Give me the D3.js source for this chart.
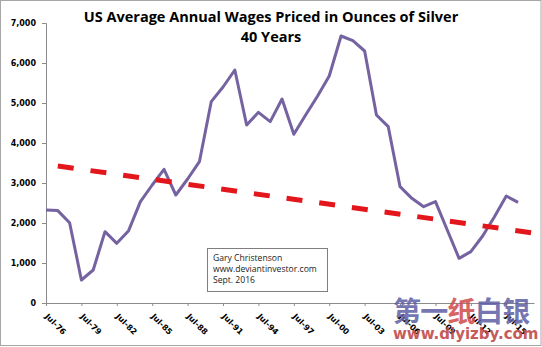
<!DOCTYPE html>
<html>
<head>
<meta charset="utf-8">
<script src="https://cdn.jsdelivr.net/npm/d3@7"></script>
<style>
  body { margin: 0; background: #fff; }
  svg { display: block; }
</style>
</head>
<body>
<svg id="chart"></svg>
<script>
// Data - annual wages priced in ounces of silver, one point per July
const years = d3.range(1976, 2017);
const ounces = [
    2325, 2310, 2008, 575, 825, 1783, 1492, 1808, 2533, 2950,
    3342, 2700, 3100, 3533, 5033, 5400, 5825, 4450, 4767, 4533,
    5100, 4217, 4700, 5170, 5675, 6675, 6558, 6300, 4700, 4408,
    2908, 2617, 2408, 2533, 1825, 1117, 1283, 1675, 2158, 2675,
    2517
];
// Trend line end points (year, ounces)
const trendYears = [1977, 2017.1];
const trendValues = [3425, 1758];
const yTicks = [0, 1000, 2000, 3000, 4000, 5000, 6000, 7000];
const tickYears = d3.range(1976, 2016, 3);
const titleLines = ["US Average Annual Wages Priced in Ounces of Silver", "40 Years"];
const noteLines = ["Gary Christenson", "www.deviantinvestor.com", "Sept. 2016"];
const markChars = ["第", "一", "纸", "白", "银"];
const markColors = ["#5f5fa6", "#5f5fa6", "#cf4b4b", "#5f5fa6", "#5f5fa6"];

const width = 542;
const height = 347;
const margin = { top: 23, right: 8, bottom: 44, left: 46 };

const svg = d3.select("#chart")
    .attr("width", width)
    .attr("height", height);

// Outer frame
svg.append("rect")
    .attr("x", 0.5).attr("y", 0.5)
    .attr("width", width - 1.5).attr("height", height - 2)
    .attr("fill", "#fff")
    .attr("stroke", "#a6a6a6");

const x = d3.scaleLinear()
    .domain([1976, 2017.35])
    .range([margin.left, width - margin.right]);

const y = d3.scaleLinear()
    .domain([0, 7000])
    .range([height - margin.bottom, margin.top]);

// Y axis
const yAxis = svg.append("g")
    .attr("transform", `translate(${margin.left},0)`)
    .call(d3.axisLeft(y).tickValues(yTicks).tickSize(4).tickPadding(6).tickFormat(d3.format(",")));
yAxis.select(".domain").attr("stroke", "#8c8c8c");
yAxis.selectAll(".tick line").attr("stroke", "#8c8c8c");
yAxis.selectAll("text")
    .attr("font-family", "'DejaVu Sans', Verdana, sans-serif")
    .attr("font-weight", "bold")
    .attr("font-size", "8px")
    .attr("fill", "#000");

// X axis
const xAxis = svg.append("g")
    .attr("transform", `translate(0,${height - margin.bottom})`)
    .call(d3.axisBottom(x).tickValues(tickYears).tickSize(3).tickSizeOuter(0)
        .tickFormat(d => "Jul-" + String(d % 100).padStart(2, "0")));
xAxis.select(".domain").attr("stroke", "#8c8c8c");
xAxis.selectAll(".tick line").attr("stroke", "#8c8c8c");
xAxis.selectAll("text")
    .attr("font-family", "'DejaVu Sans', Verdana, sans-serif")
    .attr("font-weight", "bold")
    .attr("font-size", "8px")
    .attr("fill", "#000")
    .attr("text-anchor", "start")
    .attr("dy", "0.35em")
    .attr("y", 0)
    .attr("transform", "translate(0,12) rotate(45)");

// Wage line
const line = d3.line()
    .x((d, i) => x(years[i]))
    .y(d => y(d));

svg.append("path")
    .datum(ounces)
    .attr("fill", "none")
    .attr("stroke", "#7463a0")
    .attr("stroke-width", 3)
    .attr("stroke-linejoin", "round")
    .attr("d", line);

// Trend line
svg.append("line")
    .attr("x1", x(trendYears[0])).attr("y1", y(trendValues[0]))
    .attr("x2", x(trendYears[1])).attr("y2", y(trendValues[1]))
    .attr("stroke", "#e2161b")
    .attr("stroke-width", 5)
    .attr("stroke-dasharray", "16,17");

// Title
svg.append("text")
    .attr("text-anchor", "middle")
    .attr("font-family", "'Open Sans', sans-serif")
    .attr("font-weight", "bold")
    .attr("font-size", "14.5px")
    .attr("fill", "#000")
    .selectAll("tspan")
    .data(titleLines)
    .join("tspan")
    .attr("x", 271)
    .attr("y", (d, i) => 22 + i * 20)
    .text(d => d);

// Source note box
const note = svg.append("g").attr("transform", "translate(207,248)");
note.append("rect")
    .attr("x", 0.5).attr("y", 0.5)
    .attr("width", 120).attr("height", 43)
    .attr("fill", "#fff")
    .attr("stroke", "#7f7f7f");
note.append("text")
    .attr("font-family", "'Open Sans', sans-serif")
    .attr("font-size", "8.6px")
    .attr("fill", "#222")
    .selectAll("tspan")
    .data(noteLines)
    .join("tspan")
    .attr("x", 6)
    .attr("y", (d, i) => 13 + i * 11)
    .text(d => d);

// Watermark
svg.append("g")
    .attr("opacity", 0.85)
    .selectAll("text")
    .data(markChars)
    .join("text")
    .attr("x", (d, i) => 393 + i * 27.3)
    .attr("y", 322)
    .attr("font-family", "'Noto Sans CJK SC', sans-serif")
    .attr("font-weight", "bold")
    .attr("font-size", "28px")
    .attr("fill", (d, i) => markColors[i])
    .text(d => d);

svg.append("text")
    .attr("x", 393)
    .attr("y", 339)
    .attr("font-family", "'DejaVu Sans', sans-serif")
    .attr("font-weight", "bold")
    .attr("font-size", "15px")
    .attr("fill", "#c24a4a")
    .attr("opacity", 0.9)
    .text("www.diyizby.com");
</script>
</body>
</html>
